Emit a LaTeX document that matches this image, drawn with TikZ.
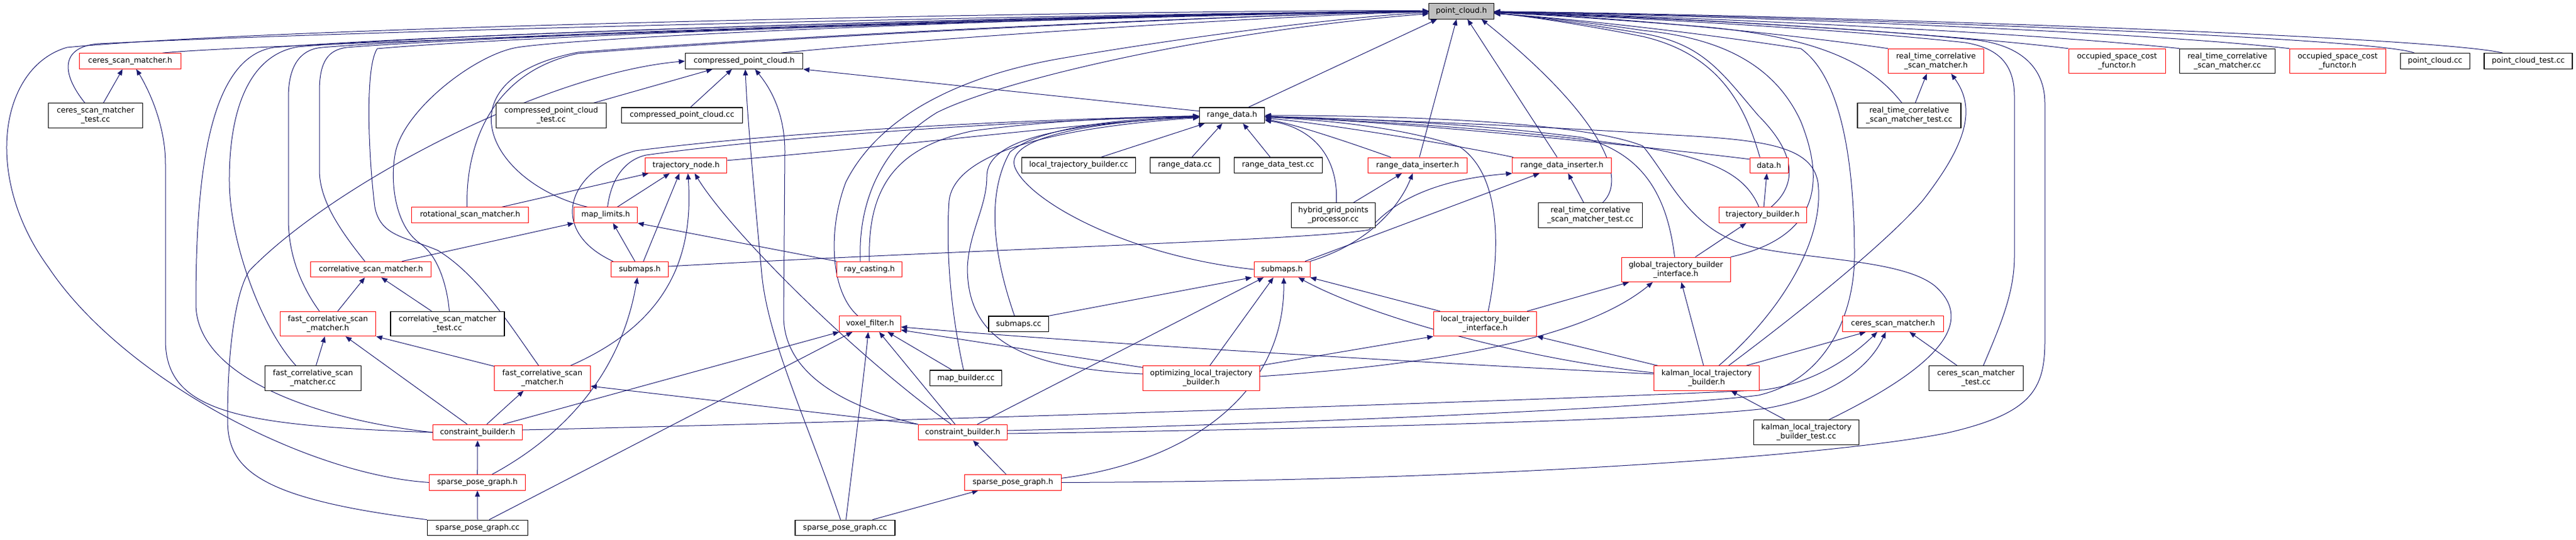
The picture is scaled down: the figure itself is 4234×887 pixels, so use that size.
\documentclass[tikz,border=0pt]{standalone}
\usepackage{fontspec}
\setmainfont{DejaVu Sans}
\usetikzlibrary{arrows.meta,backgrounds,calc}
\definecolor{edgec}{HTML}{191970}
\definecolor{redb}{HTML}{FF0000}
\definecolor{pcfill}{HTML}{BFBFBF}
\tikzset{
 fbox/.style={draw, rectangle, fill=white, inner sep=0pt, align=center, font=\fontsize{12.5}{15}\selectfont, line width=1pt},
 rbox/.style={fbox, draw=redb},
 bbox/.style={fbox, draw=black, line width=1.2pt},
 pbox/.style={fbox, draw=black, fill=pcfill, line width=1.2pt},
 h1/.style={minimum height=25.6pt},
 h2/.style={minimum height=40.4pt},
 e/.style={draw=edgec, line width=1pt, -{Triangle[length=10pt,width=8pt]}},
}
\begin{document}
\begin{tikzpicture}[x=1pt,y=-1pt]
\useasboundingbox (0,0) rectangle (4234,887);
% nodes
\node[rbox,h1,minimum width=167pt] (csm1) at (214,100.5) {ceres\_scan\_matcher.h};
\node[bbox,h2,minimum width=155pt] (csmt1) at (157,190) {ceres\_scan\_matcher\\\_test.cc};
\node[rbox,h1,minimum width=198pt] (corr) at (609.7,443) {correlative\_scan\_matcher.h};
\node[rbox,h1,minimum width=192pt] (rot) at (772.7,353.7) {rotational\_scan\_matcher.h};
\node[rbox,h2,minimum width=157.5pt] (fcsm1) at (539,532.5) {fast\_correlative\_scan\\\_matcher.h};
\node[bbox,h2,minimum width=187pt] (corrt) at (735.5,532.5) {correlative\_scan\_matcher\\\_test.cc};
\node[bbox,h2,minimum width=157.6pt] (fcsmcc) at (514.4,622) {fast\_correlative\_scan\\\_matcher.cc};
\node[rbox,h1,minimum width=147pt] (cb1) at (785,711) {constraint\_builder.h};
\node[rbox,h1,minimum width=158.5pt] (spg1) at (784.7,793.4) {sparse\_pose\_graph.h};
\node[bbox,h1,minimum width=165pt] (spgcc1) at (785,868) {sparse\_pose\_graph.cc};
\node[rbox,h1,minimum width=94pt] (sub1) at (1051.6,443) {submaps.h};
\node[rbox,h2,minimum width=157.6pt] (fcsm2) at (891.5,622) {fast\_correlative\_scan\\\_matcher.h};
\node[rbox,h1,minimum width=100.6pt] (vox) at (1430,532.7) {voxel\_filter.h};
\node[bbox,h1,minimum width=164pt] (spgcc2) at (1389,868) {sparse\_pose\_graph.cc};
\node[bbox,h1,minimum width=193.4pt] (cpc) at (1223,100.5) {compressed\_point\_cloud.h};
\node[bbox,h2,minimum width=181.6pt] (cpct) at (906,190) {compressed\_point\_cloud\\\_test.cc};
\node[bbox,h1,minimum width=199pt] (cpccc) at (1121,189.7) {compressed\_point\_cloud.cc};
\node[rbox,h1,minimum width=134.5pt] (tn) at (1127.7,271.8) {trajectory\_node.h};
\node[rbox,h1,minimum width=104pt] (maplim) at (995.6,353.7) {map\_limits.h};
\node[rbox,h1,minimum width=107pt] (ray) at (1429,443) {ray\_casting.h};
\node[bbox,h1,minimum width=107pt] (rd) at (2025,189.7) {range\_data.h};
\node[bbox,h1,minimum width=187pt] (ltbcc) at (1773,271.7) {local\_trajectory\_builder.cc};
\node[bbox,h1,minimum width=113.7pt] (rdcc) at (1947.7,271.7) {range\_data.cc};
\node[bbox,h1,minimum width=145pt] (rdt) at (2100.7,271.7) {range\_data\_test.cc};
\node[rbox,h1,minimum width=92pt] (sub2) at (2107,443) {submaps.h};
\node[bbox,h1,minimum width=98.7pt] (subcc) at (1674.4,532.7) {submaps.cc};
\node[bbox,h1,minimum width=118pt] (mapb) at (1587.7,621.8) {map\_builder.cc};
\node[rbox,h2,minimum width=191.5pt] (olt) at (1974.4,622) {optimizing\_local\_trajectory\\\_builder.h};
\node[rbox,h1,minimum width=146pt] (cb2) at (1582.3,711) {constraint\_builder.h};
\node[rbox,h1,minimum width=158.5pt] (spg2) at (1664.8,793.4) {sparse\_pose\_graph.h};
\node[pbox,h1,minimum width=106.4pt] (pc) at (2402,18.3) {point\_cloud.h};
\node[rbox,h1,minimum width=162.5pt] (rsi1) at (2330,271.8) {range\_data\_inserter.h};
\node[rbox,h1,minimum width=163pt] (rsi2) at (2567.3,271.8) {range\_data\_inserter.h};
\node[bbox,h2,minimum width=138.5pt] (hyb) at (2191.5,354) {hybrid\_grid\_points\\\_processor.cc};
\node[bbox,h2,minimum width=170.7pt] (rtt1) at (2614,354) {real\_time\_correlative\\\_scan\_matcher\_test.cc};
\node[rbox,h2,minimum width=179pt] (gtbi) at (2754.5,443.3) {global\_trajectory\_builder\\\_interface.h};
\node[rbox,h2,minimum width=169.3pt] (ltbi) at (2441,532.5) {local\_trajectory\_builder\\\_interface.h};
\node[rbox,h2,minimum width=173pt] (kal) at (2805,622) {kalman\_local\_trajectory\\\_builder.h};
\node[rbox,h1,minimum width=63pt] (data) at (2907.5,271.8) {data.h};
\node[rbox,h1,minimum width=144pt] (tb) at (2897,353.7) {trajectory\_builder.h};
\node[rbox,h2,minimum width=156.7pt] (rtcsm) at (3182,100.5) {real\_time\_correlative\\\_scan\_matcher.h};
\node[bbox,h2,minimum width=170pt] (rtt2) at (3138,190) {real\_time\_correlative\\\_scan\_matcher\_test.cc};
\node[rbox,h2,minimum width=159pt] (ocf1) at (3479.5,100.5) {occupied\_space\_cost\\\_functor.h};
\node[rbox,h1,minimum width=166.6pt] (csm2) at (3111.5,532.7) {ceres\_scan\_matcher.h};
\node[bbox,h2,minimum width=155pt] (csmt2) at (3247.8,622) {ceres\_scan\_matcher\\\_test.cc};
\node[bbox,h2,minimum width=173.4pt] (klbt) at (2969,711) {kalman\_local\_trajectory\\\_builder\_test.cc};
\node[bbox,h2,minimum width=156.4pt] (rtcc) at (3661,100.5) {real\_time\_correlative\\\_scan\_matcher.cc};
\node[rbox,h2,minimum width=158pt] (ocf2) at (3842.2,100.5) {occupied\_space\_cost\\\_functor.h};
\node[bbox,h1,minimum width=113.3pt] (pccc) at (4002.4,100.5) {point\_cloud.cc};
\node[bbox,h1,minimum width=145pt] (pct) at (4155.5,100.5) {point\_cloud\_test.cc};
% edges
\begin{scope}[on background layer]
\draw[e] ([xshift=53pt]csm1.north) .. controls (400,72) and (2000,22) .. (pc);
\draw[e] ([xshift=-17.5pt]csmt1.north) .. controls (100,120) and (100,78) .. (160,72) .. controls (700,45) and (2000,20) .. (pc);
\draw[e] ([xshift=13pt]csmt1.north) -- ([xshift=-12.5pt]csm1.south);
\draw[e] (cb1.west) .. controls (400,700) and (272,680) .. (272,560) -- (272,270) .. controls (272,200) and (240,140) .. ([xshift=10pt]csm1.south);
\draw[e] (spg1.west) .. controls (500,780) and (200,620) .. (80,440) .. controls (-30,290) and (0,110) .. (110,78) .. controls (500,40) and (2000,15) .. (pc);
\draw[e] (cb1.west) .. controls (520,690) and (322,620) .. (322,500) .. controls (322,300) and (340,95) .. (450,78) .. controls (800,50) and (2000,20) .. (pc);
\draw[e] (spgcc1.north west) .. controls (420,820) and (374,770) .. (374,690) .. controls (374,560) and (390,475) .. (410,445) .. controls (550,300) and (900,120) .. (cpc.west);
\draw[e] ([xshift=-28pt]fcsmcc.north) .. controls (430,540) and (378,400) .. (377,300) .. controls (376,180) and (410,90) .. (490,77) .. controls (800,50) and (2000,20) .. (pc);
\draw[e] ([xshift=-14pt]fcsm1.north) .. controls (495,470) and (474,420) .. (474,360) -- (474,160) .. controls (474,100) and (500,80) .. (530,78) .. controls (800,55) and (2000,20) .. (pc);
\draw[e] ([xshift=-10pt]corr.north) .. controls (560,380) and (525,330) .. (525,280) -- (525,150) .. controls (525,100) and (540,82) .. (570,78) .. controls (850,55) and (2000,20) .. (pc);
\draw[e] ([xshift=-6pt]fcsm2.north) .. controls (845,545) and (790,455) .. (720,412) .. controls (670,390) and (625,390) .. (616,340) .. controls (605,250) and (600,110) .. (620,80) .. controls (900,55) and (2000,20) .. (pc);
\draw[e] ([xshift=3pt]corrt.north) .. controls (735,470) and (720,420) .. (690,400) .. controls (650,372) and (640,300) .. (650,250) .. controls (665,180) and (780,90) .. (850,78) .. controls (1000,55) and (2000,20) .. (pc);
\draw[e] ([xshift=-26pt]corrt.north) -- ([xshift=17pt]corr.south);
\draw[e] ([xshift=16pt]fcsm1.north) -- ([xshift=-10pt]corr.south);
\draw[e] ([xshift=5pt]fcsmcc.north) -- ([xshift=-5pt]fcsm1.south);
\draw[e] ([xshift=-17pt]cb1.north) -- ([xshift=29pt]fcsm1.south);
\draw[e] ([yshift=-1pt]fcsm2.north west) -- (fcsm1.south east);
\draw[e] ([xshift=-5pt]rot.north) .. controls (765,250) and (800,120) .. (950,88) .. controls (1300,60) and (2100,22) .. (pc);
\draw[e] ([xshift=-30pt]maplim.north) .. controls (800,300) and (720,130) .. (950,86) .. controls (1300,58) and (2100,22) .. (pc);
\draw[e] ([xshift=61pt]cpc.north) .. controls (1500,65) and (2100,25) .. (pc);
\draw[e] ([yshift=7pt]rd.west) -- (cpc.south east);
\draw[e] ([xshift=70pt]cpct.north) -- ([xshift=-52pt]cpc.south);
\draw[e] ([xshift=14pt]cpccc.north) -- ([xshift=-20pt]cpc.south);
\draw[e] ([xshift=-7.5pt]spgcc2.north) .. controls (1330,700) and (1262,560) .. (1252,450) .. controls (1240,320) and (1228,190) .. ([xshift=2pt]cpc.south);
\draw[e] (cb2.north west) .. controls (1400,672) and (1288,620) .. (1288,520) -- (1290,250) .. controls (1290,180) and (1262,140) .. ([xshift=18pt]cpc.south);
\draw[e] ([xshift=-19pt]cb2.north) .. controls (1400,580) and (1200,380) .. ([xshift=14pt]tn.south);
\draw[e] ([xshift=24pt]spg1.north) .. controls (920,720) and (1020,620) .. ([xshift=-4pt]sub1.south);
\draw[e] ([xshift=46pt]fcsm2.north) .. controls (1100,530) and (1140,420) .. ([xshift=3pt]tn.south);
\draw[e] (cb2.north west) -- ([yshift=-13pt]fcsm2.east);
\draw[e] ([xshift=15pt]cb1.north) -- ([xshift=-31pt]fcsm2.south);
\draw[e] ([xshift=42pt]cb1.north) -- (vox.south west);
\draw[e] ([yshift=4pt]cb1.east) .. controls (1600,690) and (2700,652) .. (2900,641) .. controls (2980,630) and (3040,590) .. ([xshift=-26pt]csm2.south);
\draw[e] ([yshift=3pt]cb2.east) .. controls (2200,695) and (2750,668) .. (2890,650) .. controls (3000,625) and (3048,520) .. (3048,420) .. controls (3048,280) and (3030,130) .. (2960,80) .. controls (2700,40) and (2500,25) .. (pc);
\draw[e] ([yshift=-2pt]cb2.east) .. controls (2200,705) and (2750,690) .. (2900,672) .. controls (3000,655) and (3070,610) .. ([xshift=-12pt]csm2.south);
\draw[e] (spg2.east) .. controls (2400,792) and (3000,752) .. (3200,712) .. controls (3340,680) and (3361,640) .. (3361,560) -- (3361,170) .. controls (3361,110) and (3320,75) .. (3250,66) .. controls (3000,40) and (2600,25) .. (pc);
\draw[e] ([xshift=12pt]csmt2.north) .. controls (3290,530) and (3311,480) .. (3311,420) -- (3311,160) .. controls (3311,110) and (3290,80) .. (3230,70) .. controls (3000,45) and (2600,25) .. (pc);
\draw[e] ([xshift=37pt]klbt.north) .. controls (3150,620) and (3260,540) .. (3180,470) .. controls (3130,430) and (3000,428) .. (2900,410) .. controls (2780,390) and (2750,300) .. (2700,240) .. controls (2600,200) and (2300,190) .. (rd);
\draw[e] ([xshift=-35pt]klbt.north) -- ([xshift=40pt]kal.south);
\draw[e] ([xshift=65pt]kal.north) -- ([xshift=-45pt]csm2.south);
\draw[e] ([xshift=-31pt]csmt2.north) -- ([xshift=27pt]csm2.south);
\draw[e] ([xshift=-20pt]vox.north) .. controls (1365,480) and (1360,380) .. (1390,300) .. controls (1450,180) and (1600,120) .. (1750,95) .. controls (2000,52) and (2250,25) .. (pc);
\draw[e] ([xshift=-15pt]ray.north) .. controls (1410,330) and (1450,240) .. (1540,185) .. controls (1650,130) and (2000,50) .. (pc);
\draw[e] (ray.north) .. controls (1425,300) and (1480,240) .. (1600,215) .. controls (1750,195) and (1900,192) .. (rd);
\draw[e] (ray.north west) -- (maplim.south east);
\draw[e] ([yshift=5pt]sub1.east) .. controls (1600,410) and (2150,395) .. (2250,378) .. controls (2290,330) and (2360,295) .. (rsi2.south west);
\draw[e] ([xshift=-8pt]sub1.north) -- ([xshift=12pt]maplim.south);
\draw[e] ([xshift=6pt]sub1.north) -- ([xshift=-11pt]tn.south);
\draw[e] ([xshift=-44pt]sub1.north) .. controls (900,380) and (930,280) .. (1044,248) .. controls (1300,215) and (1700,196) .. (rd);
\draw[e] ([xshift=3pt]maplim.north) .. controls (1005,290) and (1030,262) .. (1062,255) .. controls (1300,222) and (1700,198) .. (rd);
\draw[e] ([xshift=51pt]corr.north) -- (maplim.south west);
\draw[e] ([xshift=52pt]rot.north) -- ([xshift=6pt]tn.south west);
\draw[e] ([xshift=19pt]maplim.north) -- ([xshift=-27pt]tn.south);
\draw[e] ([yshift=8pt]tn.east) .. controls (1500,238) and (1800,200) .. (rd);
\draw[e] ([xshift=-4pt]mapb.north) .. controls (1560,500) and (1555,400) .. (1560,330) .. controls (1568,260) and (1700,212) .. (rd);
\draw[e] ([yshift=7pt]olt.west) .. controls (1680,605) and (1590,560) .. (1590,440) .. controls (1593,380) and (1622,340) .. (1622,290) .. controls (1622,235) and (1720,205) .. (rd);
\draw[e] ([xshift=-7pt]subcc.north) .. controls (1640,440) and (1615,330) .. (1660,250) .. controls (1720,200) and (1900,194) .. (rd);
\draw[e] (sub2.west) .. controls (1850,420) and (1690,330) .. (1668,275) .. controls (1650,225) and (1800,200) .. (rd);
\draw[e] ([xshift=37pt]ltbcc.north) -- ([xshift=-45pt]rd.south);
\draw[e] ([xshift=11.5pt]rdcc.north) -- ([xshift=-16pt]rd.south);
\draw[e] ([xshift=-13pt]rdt.north) -- ([xshift=18pt]rd.south);
\draw[e] ([xshift=27pt]rd.north) -- ([xshift=-40pt]pc.south);
\draw[e] ([xshift=19pt]spgcc1.north) -- ([xshift=-29pt]vox.south);
\draw[e] ([xshift=1.5pt]spgcc2.north) .. controls (1398,790) and (1420,620) .. ([xshift=-3pt]vox.south);
\draw[e] ([xshift=-12.5pt]cb2.north) -- ([xshift=15pt]vox.south);
\draw[e] ([xshift=-23pt]mapb.north) -- ([xshift=29pt]vox.south);
\draw[e] ([yshift=7pt]kal.west) .. controls (2400,600) and (1800,565) .. ([yshift=-5pt]vox.east);
\draw[e] ([yshift=-3pt]olt.north west) -- ([yshift=-10pt]vox.east);
\draw[e] ([xshift=45pt]spgcc2.north) -- ([xshift=-57pt]spg2.south);
\draw[e] ([xshift=-11pt]spg2.north) -- ([xshift=17pt]cb2.south);
\draw[e] (spg1.north) -- (cb1.south);
\draw[e] (spgcc1.north) -- (spg1.south);
\draw[e] (subcc.north east) -- ([xshift=-3pt]sub2.south west);
\draw[e] ([xshift=24pt]cb2.north) -- ([xshift=-30pt]sub2.south);
\draw[e] ([xshift=14pt]olt.north) -- ([xshift=-14pt]sub2.south);
\draw[e] ([yshift=7pt]spg2.east) .. controls (1950,760) and (2112,650) .. ([xshift=3pt]sub2.south);
\draw[e] ([yshift=9pt]kal.west) .. controls (2500,590) and (2250,520) .. ([xshift=27pt]sub2.south);
\draw[e] ([xshift=-74pt]ltbi.north) -- (sub2.south east);
\draw[e] (sub2.north east) .. controls (2250,400) and (2300,340) .. ([xshift=-8pt]rsi1.south);
\draw[e] ([xshift=38pt]sub2.north) -- ([xshift=-37pt]rsi2.south);
\draw[e] ([xshift=33pt]hyb.north) -- ([xshift=-26pt]rsi1.south);
\draw[e] ([xshift=-11pt]rtt1.north) -- ([xshift=10pt]rsi2.south);
\draw[e] ([xshift=-44pt]rsi1.north) .. controls (2200,228) and (2120,202) .. (rd);
\draw[e] ([xshift=3pt]rsi1.north) -- ([xshift=-8pt]pc.south);
\draw[e] ([xshift=-80pt]rsi2.north) .. controls (2350,230) and (2150,200) .. (rd);
\draw[e] ([xshift=-8pt]rsi2.north) -- ([xshift=10pt]pc.south);
\draw[e] ([xshift=20pt]rtt1.north) .. controls (2680,290) and (2620,180) .. ([xshift=33pt]pc.south);
\draw[e] ([xshift=5pt]hyb.north) .. controls (2200,260) and (2160,210) .. (rd);
\draw[e] ([yshift=10pt]data.west) .. controls (2700,240) and (2300,200) .. (rd);
\draw[e] ([xshift=-15pt]data.north) .. controls (2870,180) and (2830,90) .. (2700,60) .. controls (2600,40) and (2500,25) .. (pc);
\draw[e] ([xshift=2pt]tb.north) -- ([xshift=-3.5pt]data.south);
\draw[e] ([xshift=14pt]tb.north) .. controls (2970,290) and (2930,230) .. (2890,190) .. controls (2830,120) and (2800,72) .. (2700,55) .. controls (2600,38) and (2500,25) .. (pc);
\draw[e] ([xshift=-6pt]tb.north) .. controls (2870,290) and (2820,262) .. (2700,242) .. controls (2500,212) and (2200,196) .. (rd);
\draw[e] ([xshift=32pt]gtbi.north) -- ([xshift=-27pt]tb.south);
\draw[e] (gtbi.north east) .. controls (2990,390) and (3000,300) .. (2960,200) .. controls (2910,90) and (2800,60) .. (2700,50) .. controls (2600,35) and (2500,25) .. (pc);
\draw[e] ([xshift=-2pt]gtbi.north) .. controls (2740,320) and (2700,252) .. (2600,226) .. controls (2400,200) and (2200,195) .. (rd);
\draw[e] ([xshift=69pt]ltbi.north) -- ([xshift=-77pt]gtbi.south);
\draw[e] ([yshift=3pt]olt.east) .. controls (2350,600) and (2600,560) .. ([xshift=-38pt]gtbi.south);
\draw[e] ([xshift=-5pt]kal.north) -- ([xshift=9pt]gtbi.south);
\draw[e] ([xshift=5pt]ltbi.north) .. controls (2465,420) and (2470,290) .. (2400,242) .. controls (2300,206) and (2150,196) .. (rd);
\draw[e] (olt.north east) -- (ltbi.south west);
\draw[e] ([xshift=-80pt]kal.north) -- (ltbi.south east);
\draw[e] ([xshift=20pt]kal.north) .. controls (2920,520) and (3000,400) .. (2988,300) .. controls (2978,240) and (2900,230) .. (2750,222) .. controls (2500,205) and (2200,195) .. (rd);
\draw[e] ([xshift=36pt]kal.north) .. controls (2950,520) and (3100,400) .. (3160,330) .. controls (3230,240) and (3250,180) .. ([xshift=25pt]rtcsm.south);
\draw[e] (rtcsm.north west) .. controls (2900,50) and (2600,25) .. (pc);
\draw[e] ([xshift=10pt]rtt2.north) -- ([xshift=-15pt]rtcsm.south);
\draw[e] ([xshift=-12pt]rtt2.north) .. controls (3080,110) and (3000,62) .. (2800,44) .. controls (2650,32) and (2550,25) .. (pc);
\draw[e] (ocf1.north west) .. controls (3200,55) and (2700,25) .. (pc);
\draw[e] (rtcc.north west) .. controls (3300,50) and (2700,25) .. (pc);
\draw[e] (ocf2.north west) .. controls (3500,50) and (2800,25) .. (pc);
\draw[e] ([xshift=-34pt]pccc.north) .. controls (3900,60) and (2900,25) .. (pc);
\draw[e] ([xshift=-42pt]pct.north) .. controls (4000,60) and (3000,25) .. (pc);
\end{scope}
\end{tikzpicture}
\end{document}
